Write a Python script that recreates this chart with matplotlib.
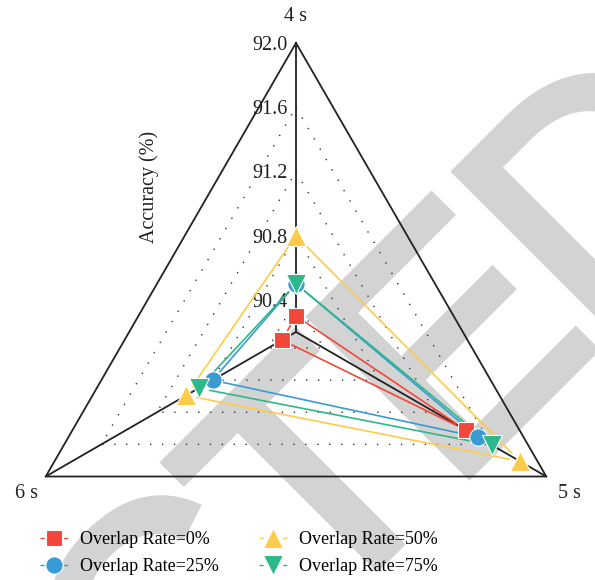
import matplotlib.pyplot as plt
import numpy as np
from matplotlib.lines import Line2D
from matplotlib.textpath import TextPath
from matplotlib.font_manager import FontProperties
from matplotlib.patches import PathPatch
from matplotlib.transforms import Affine2D

plt.rcParams['font.family'] = ['Liberation Serif', 'DejaVu Serif']

# data
axis_labels = ["4 s", "5 s", "6 s"]
series_labels = ["Overlap Rate=0%", "Overlap Rate=25%", "Overlap Rate=50%", "Overlap Rate=75%"]
rate0 = [90.30, 91.42, 90.30]
rate25 = [90.50, 91.51, 90.80]
rate50 = [90.80, 91.81, 90.99]
rate75 = [90.50, 91.61, 90.90]
ticks = [90.4, 90.8, 91.2, 91.6, 92.0]
rmin, rmax = 90.2, 92.0

colors = ["#F0483A", "#3A9BD2", "#FDCB4A", "#2CB88A"]
markers = ["s", "o", "^", "v"]
msizes = [11, 12.5, 15, 15]

angles = np.radians([90, -30, 210])


def to_xy(vals):
    f = (np.array(vals, dtype=float) - rmin) / (rmax - rmin)
    return f * np.cos(angles), f * np.sin(angles)


def closed(a):
    return np.append(a, a[0])


fig = plt.figure(figsize=(5.95, 5.80), dpi=100)
ax = fig.add_axes([0, 0, 1, 1])
ax.set_xlim(-296 / 289, 299 / 289)
ax.set_ylim(-248 / 289, 332 / 289)
ax.axis('off')

# watermark, placed in pixel coords, letters tracked a bit tighter
word = "RETRACTED"
fp = FontProperties(family='Liberation Sans')
cap = TextPath((0, 0), "E", size=1, prop=fp).get_extents().y1
s = 222 / cap
track = 10 / s
origins = []
for i, ch in enumerate(word):
    o = TextPath((0, 0), word[:i + 1], size=1, prop=fp).get_extents().x1 \
        - TextPath((0, 0), ch, size=1, prop=fp).get_extents().x1
    origins.append(o + track * (len(word) - 1 - i))
d_left = origins[-1] + TextPath((0, 0), "D", size=1, prop=fp).get_extents().x0
c45 = np.cos(np.radians(45))
tr = Affine2D().scale(s).rotate_deg(45).translate(614.5 - d_left * s * c45,
                                                 251.5 - d_left * s * c45)
for o, ch in zip(origins, word):
    ax.add_patch(PathPatch(TextPath((o, 0), ch, size=1, prop=fp), transform=tr,
                           facecolor='#D3D3D3', edgecolor='#D3D3D3',
                           lw=7.2, joinstyle='miter', zorder=0))

# dotted inner grid
for t in ticks[:-1]:
    gx, gy = to_xy([t] * 3)
    ax.plot(closed(gx), closed(gy), color='#333333', lw=1, ls=(0, (1, 7.6)), zorder=1)

# outer frame and spokes
ox, oy = to_xy([rmax] * 3)
ax.plot(closed(ox), closed(oy), color='#222222', lw=1.3, zorder=2)
for i in range(3):
    ax.plot([0, ox[i]], [0, oy[i]], color='#222222', lw=1.3, zorder=2)

# tick labels on the top spoke
for t in ticks:
    f = (t - rmin) / (rmax - rmin)
    ax.annotate(f"{t:.1f}", xy=(0, f), xytext=(-6, 0), textcoords='offset points',
                ha='right', va='center_baseline', fontsize=14.5, color='#222222', zorder=3)

offsets = [(0, 19), (17, -12), (-14, -12)]
for i, lab in enumerate(axis_labels):
    ax.annotate(lab, xy=(ox[i], oy[i]), xytext=offsets[i], textcoords='offset points',
                ha='center', va='center', fontsize=14.5, color='#222222')

ax.text(-0.509, 0.502, "Accuracy (%)", rotation=90, ha='center', va='center',
        fontsize=14.5, color='#222222')

# series
all_series = [rate0, rate25, rate50, rate75]
for k, vals in enumerate(all_series):
    x, y = to_xy(vals)
    for i in range(3):
        j = (i + 1) % 3
        ax.annotate("", xy=(x[j], y[j]), xytext=(x[i], y[i]),
                    arrowprops=dict(arrowstyle='-', color=colors[k], lw=1.2,
                                    shrinkA=8, shrinkB=8), zorder=3 + k)
    ax.plot(x, y, ls='none', marker=markers[k], ms=msizes[k], color=colors[k],
            mec='white', mew=0.8, zorder=8 + k)

handles = [Line2D([], [], color=colors[k], marker=markers[k], ms=msizes[k],
                  ls=(0, (3, 14)), lw=1, mec='white', mew=0.8) for k in range(4)]
ax.legend(handles, series_labels, ncol=2, loc='upper left',
          bbox_to_anchor=(0.067, 0.084), frameon=False, fontsize=13,
          handlelength=1.55, handletextpad=0.67, columnspacing=2.2,
          labelspacing=0.56, borderpad=0, borderaxespad=0)

fig.savefig("out.png", dpi=100)
